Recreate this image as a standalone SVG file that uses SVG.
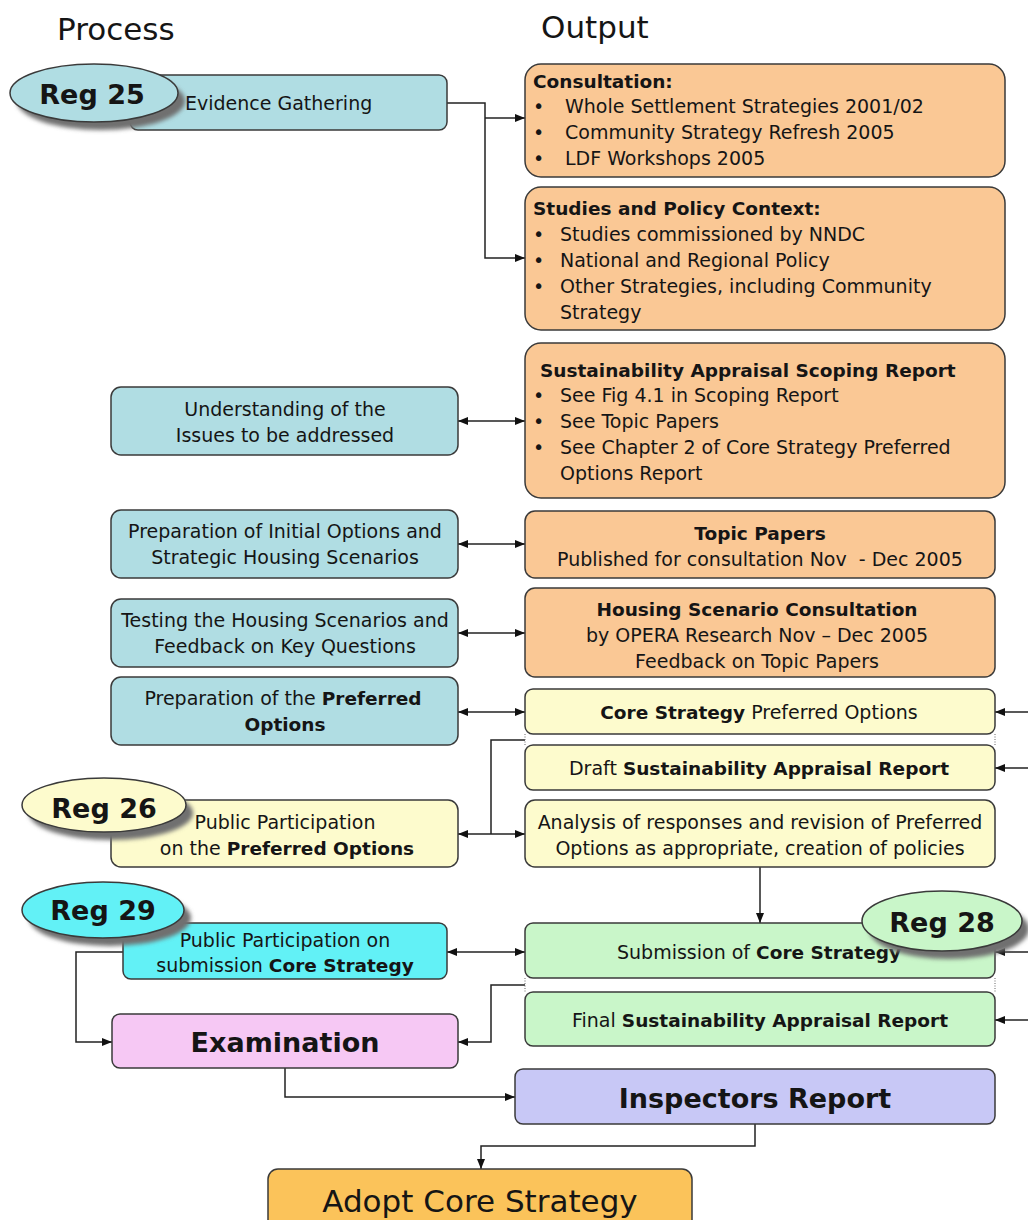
<svg xmlns="http://www.w3.org/2000/svg" width="1028" height="1220" viewBox="0 0 1028 1220">
<defs>
<marker id="ah" viewBox="0 0 10 8" refX="10" refY="4" markerWidth="10" markerHeight="8" markerUnits="userSpaceOnUse" orient="auto-start-reverse">
<path d="M0,0 L10,4 L0,8 z" fill="#111"/>
</marker>
<filter id="blur" x="-20%" y="-20%" width="140%" height="140%"><feGaussianBlur stdDeviation="2"/></filter>
</defs>
<style>
text{font-family:"DejaVu Sans","Liberation Sans",sans-serif;fill:#151515;font-size:19px}
.b{font-weight:bold;font-size:18.5px}
.c{text-anchor:middle}
.box{stroke:#3a3a3a;stroke-width:1.5}
.teal{fill:#b0dde3}
.orange{fill:#fac895}
.yellow{fill:#fdfbcd}
.green{fill:#c9f6c9}
.cyan{fill:#62f1f6}
.pink{fill:#f6c8f4}
.purple{fill:#c8c8f6}
.gold{fill:#fbc35a}
.shadow{fill:#6f6f6f;filter:url(#blur)}
.reg{font-weight:bold;font-size:27px;text-anchor:middle}
.big{font-size:27px;font-weight:bold;text-anchor:middle}
.con{fill:none;stroke:#222;stroke-width:1.5}
.dot{fill:none;stroke:#666;stroke-width:1;stroke-dasharray:1 1.5}
.title{font-size:31px}
</style>
<rect width="1028" height="1220" fill="#ffffff"/>
<text class="title" x="57" y="40">Process</text>
<text class="title" x="541" y="38">Output</text>

<g id="connectors">
<polyline class="con" points="447,103 485,103 485,258 525,258" marker-end="url(#ah)"/>
<line class="con" x1="485" y1="118" x2="525" y2="118" marker-end="url(#ah)"/>
<line class="con" x1="458" y1="421" x2="525" y2="421" marker-start="url(#ah)" marker-end="url(#ah)"/>
<line class="con" x1="458" y1="544" x2="525" y2="544" marker-start="url(#ah)" marker-end="url(#ah)"/>
<line class="con" x1="458" y1="633" x2="525" y2="633" marker-start="url(#ah)" marker-end="url(#ah)"/>
<line class="con" x1="458" y1="712" x2="525" y2="712" marker-start="url(#ah)" marker-end="url(#ah)"/>
<line class="con" x1="458" y1="834" x2="525" y2="834" marker-start="url(#ah)" marker-end="url(#ah)"/>
<polyline class="con" points="491,834 491,740 525,740"/>
<line class="con" x1="1028" y1="712" x2="995" y2="712" marker-end="url(#ah)"/>
<line class="con" x1="1028" y1="768" x2="995" y2="768" marker-end="url(#ah)"/>
<line class="con" x1="760" y1="867" x2="760" y2="923" marker-end="url(#ah)"/>
<line class="con" x1="447" y1="952" x2="525" y2="952" marker-start="url(#ah)" marker-end="url(#ah)"/>
<polyline class="con" points="123,952 76,952 76,1042 112,1042" marker-end="url(#ah)"/>
<polyline class="con" points="525,985 491,985 491,1042 458,1042" marker-end="url(#ah)"/>
<polyline class="con" points="285,1068 285,1097 515,1097" marker-end="url(#ah)"/>
<polyline class="con" points="755,1124 755,1146 481,1146 481,1169" marker-end="url(#ah)"/>
<line class="con" x1="1028" y1="952" x2="995" y2="952" marker-end="url(#ah)"/>
<line class="con" x1="1028" y1="1020" x2="995" y2="1020" marker-end="url(#ah)"/>
<line class="dot" x1="525" y1="734" x2="525" y2="745"/>
<line class="dot" x1="995" y1="734" x2="995" y2="745"/>
<line class="dot" x1="525" y1="978" x2="525" y2="992"/>
<line class="dot" x1="995" y1="978" x2="995" y2="992"/>
</g>

<g id="evidence">
<rect class="box teal" x="130" y="75" width="317" height="55" rx="8"/>
<text x="185" y="110">Evidence Gathering</text>
</g>
<g id="reg25">
<ellipse class="shadow" cx="101" cy="101" rx="84" ry="29"/>
<ellipse class="box teal" cx="94" cy="93" rx="84" ry="29"/>
<text class="reg" x="92" y="104">Reg 25</text>
</g>

<g id="consultation">
<rect class="box orange" x="525" y="64" width="480" height="113" rx="16"/>
<text class="b" x="533" y="88">Consultation:</text>
<text x="533" y="113">•</text><text x="565" y="113">Whole Settlement Strategies 2001/02</text>
<text x="533" y="139">•</text><text x="565" y="139">Community Strategy Refresh 2005</text>
<text x="533" y="165">•</text><text x="565" y="165">LDF Workshops 2005</text>
</g>

<g id="studies">
<rect class="box orange" x="525" y="187" width="480" height="143" rx="16"/>
<text class="b" x="533" y="215">Studies and Policy Context:</text>
<text x="533" y="241">•</text><text x="560" y="241">Studies commissioned by NNDC</text>
<text x="533" y="267">•</text><text x="560" y="267">National and Regional Policy</text>
<text x="533" y="293">•</text><text x="560" y="293">Other Strategies, including Community</text>
<text x="560" y="319">Strategy</text>
</g>

<g id="sa-scoping">
<rect class="box orange" x="525" y="343" width="480" height="155" rx="16"/>
<text class="b" x="540" y="377">Sustainability Appraisal Scoping Report</text>
<text x="533" y="402">•</text><text x="560" y="402">See Fig 4.1 in Scoping Report</text>
<text x="533" y="428">•</text><text x="560" y="428">See Topic Papers</text>
<text x="533" y="454">•</text><text x="560" y="454">See Chapter 2 of Core Strategy Preferred</text>
<text x="560" y="480">Options Report</text>
</g>

<g id="topic-papers">
<rect class="box orange" x="525" y="511" width="470" height="67" rx="10"/>
<text class="b c" x="760" y="540">Topic Papers</text>
<text class="c" x="760" y="566">Published for consultation Nov&#160; - Dec 2005</text>
</g>

<g id="housing">
<rect class="box orange" x="525" y="588" width="470" height="89" rx="10"/>
<text class="b c" x="757" y="616">Housing Scenario Consultation</text>
<text class="c" x="757" y="642">by OPERA Research Nov – Dec 2005</text>
<text class="c" x="757" y="668">Feedback on Topic Papers</text>
</g>

<g id="understanding">
<rect class="box teal" x="111" y="387" width="347" height="68" rx="10"/>
<text class="c" x="285" y="416">Understanding of the</text>
<text class="c" x="285" y="442">Issues to be addressed</text>
</g>

<g id="prep-initial">
<rect class="box teal" x="111" y="510" width="347" height="68" rx="10"/>
<text class="c" x="285" y="538">Preparation of Initial Options and</text>
<text class="c" x="285" y="564">Strategic Housing Scenarios</text>
</g>

<g id="testing">
<rect class="box teal" x="111" y="599" width="347" height="68" rx="10"/>
<text class="c" x="285" y="627">Testing the Housing Scenarios and</text>
<text class="c" x="285" y="653">Feedback on Key Questions</text>
</g>

<g id="prep-preferred">
<rect class="box teal" x="111" y="677" width="347" height="68" rx="10"/>
<text class="c" x="283" y="705">Preparation of the <tspan class="b">Preferred</tspan></text>
<text class="c b" x="285" y="731">Options</text>
</g>

<g id="core-po">
<rect class="box yellow" x="525" y="689" width="470" height="45" rx="8"/>
<text class="c" x="759" y="719"><tspan class="b">Core Strategy</tspan> Preferred Options</text>
</g>

<g id="draft-sa">
<rect class="box yellow" x="525" y="745" width="470" height="45" rx="8"/>
<text class="c" x="759" y="775">Draft <tspan class="b">Sustainability Appraisal Report</tspan></text>
</g>

<g id="analysis">
<rect class="box yellow" x="525" y="800" width="470" height="67" rx="10"/>
<text class="c" x="760" y="829">Analysis of responses and revision of Preferred</text>
<text class="c" x="760" y="855">Options as appropriate, creation of policies</text>
</g>

<g id="public-preferred">
<rect class="box yellow" x="111" y="800" width="347" height="67" rx="10"/>
<text class="c" x="285" y="829">Public Participation</text>
<text class="c" x="287" y="855">on the <tspan class="b">Preferred Options</tspan></text>
</g>
<g id="reg26">
<ellipse class="shadow" cx="111" cy="813" rx="82" ry="27"/>
<ellipse class="box yellow" cx="104" cy="805" rx="82" ry="27"/>
<text class="reg" x="104" y="818">Reg 26</text>
</g>

<g id="submission">
<rect class="box green" x="525" y="923" width="470" height="55" rx="8"/>
<text class="c" x="759" y="959">Submission of <tspan class="b">Core Strategy</tspan></text>
</g>
<g id="reg28">
<ellipse class="shadow" cx="949" cy="929" rx="80" ry="30"/>
<ellipse class="box green" cx="942" cy="921" rx="80" ry="30"/>
<text class="reg" x="942" y="932">Reg 28</text>
</g>

<g id="final-sa">
<rect class="box green" x="525" y="992" width="470" height="54" rx="8"/>
<text class="c" x="760" y="1027">Final <tspan class="b">Sustainability Appraisal Report</tspan></text>
</g>

<g id="public-submission">
<rect class="box cyan" x="123" y="923" width="324" height="56" rx="8"/>
<text class="c" x="285" y="947">Public Participation on</text>
<text class="c" x="285" y="972">submission <tspan class="b">Core Strategy</tspan></text>
</g>
<g id="reg29">
<ellipse class="shadow" cx="110" cy="918" rx="81" ry="28"/>
<ellipse class="box cyan" cx="103" cy="910" rx="81" ry="28"/>
<text class="reg" x="103" y="920">Reg 29</text>
</g>

<g id="examination">
<rect class="box pink" x="112" y="1014" width="346" height="54" rx="8"/>
<text class="big" x="285" y="1052">Examination</text>
</g>

<g id="inspectors">
<rect class="box purple" x="515" y="1069" width="480" height="55" rx="8"/>
<text class="big" x="755" y="1108">Inspectors Report</text>
</g>

<g id="adopt">
<rect class="box gold" x="268" y="1169" width="424" height="70" rx="10"/>
<text class="c" x="480" y="1212" style="font-size:31px">Adopt Core Strategy</text>
</g>
</svg>
